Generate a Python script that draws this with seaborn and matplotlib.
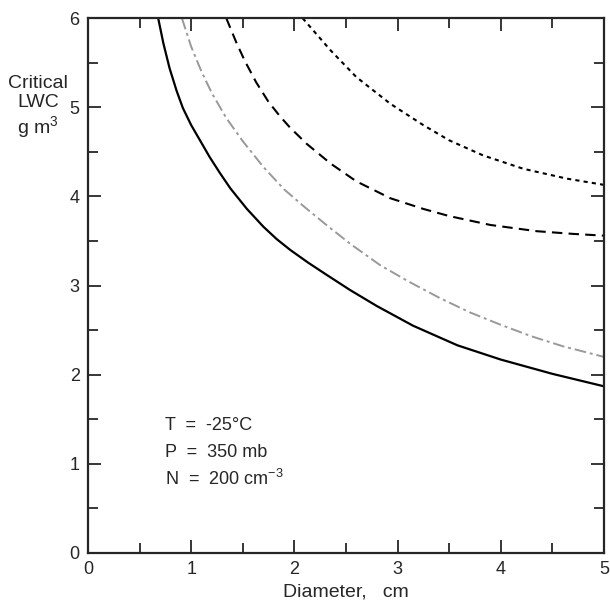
import numpy as np
import pandas as pd
import matplotlib
matplotlib.use("Agg")
import matplotlib.pyplot as plt
import seaborn as sns
from matplotlib.ticker import MultipleLocator

# curves: diameter (cm) vs critical LWC (g m-3)
solid_d = [0.68, 0.73, 0.79, 0.86, 0.92, 1.0, 1.09, 1.18, 1.28, 1.38, 1.54, 1.7,
           1.83, 1.96, 2.13, 2.3, 2.54, 2.8, 3.15, 3.58, 4.0, 4.5, 5.0]
solid_lwc = [6.0, 5.72, 5.44, 5.18, 4.99, 4.80, 4.62, 4.44, 4.26, 4.09, 3.86, 3.66,
             3.52, 3.40, 3.26, 3.13, 2.95, 2.77, 2.55, 2.33, 2.17, 2.01, 1.87]

grey_d = [0.91, 1.0, 1.1, 1.2, 1.34, 1.5, 1.7, 1.9, 2.1, 2.3, 2.54, 2.83, 3.1,
          3.41, 3.7, 4.0, 4.3, 4.6, 5.0]
grey_lwc = [6.0, 5.68, 5.40, 5.16, 4.88, 4.62, 4.33, 4.08, 3.88, 3.69, 3.47, 3.23,
            3.05, 2.86, 2.70, 2.56, 2.43, 2.32, 2.20]

dash_d = [1.34, 1.44, 1.52, 1.63, 1.75, 1.86, 1.96, 2.12, 2.35, 2.6, 2.93, 3.25,
          3.5, 3.9, 4.35, 4.7, 5.0]
dash_lwc = [6.0, 5.72, 5.52, 5.28, 5.06, 4.90, 4.77, 4.59, 4.37, 4.17, 3.98, 3.86,
            3.78, 3.68, 3.61, 3.58, 3.56]

dot_d = [2.08, 2.35, 2.6, 2.93, 3.25, 3.5, 3.83, 4.22, 4.64, 5.0]
dot_lwc = [6.0, 5.64, 5.34, 5.04, 4.8, 4.63, 4.46, 4.31, 4.2, 4.13]

annot = ["T  =  -25°C", "P  =  350 mb", "N  =  200 cm$^{-3}$"]
annot_y = [1.43, 1.13, 0.83]

sns.set_style("ticks")
plt.rcParams['font.family'] = ['Liberation Sans', 'DejaVu Sans']
plt.rcParams['mathtext.fontset'] = 'custom'
plt.rcParams['mathtext.rm'] = 'Liberation Sans'
plt.rcParams['mathtext.it'] = 'Liberation Sans'

fig = plt.figure(figsize=(6.1, 6.06), dpi=100)
ax = fig.add_axes([0.1443, 0.0875, 0.8457, 0.8825])

sns.lineplot(x=solid_d, y=solid_lwc, ax=ax, color='black', lw=1.6)
sns.lineplot(x=grey_d, y=grey_lwc, ax=ax, color='#999999', lw=1.4,
             linestyle=(0, (6, 2, 1.5, 2)))
sns.lineplot(x=dash_d, y=dash_lwc, ax=ax, color='black', lw=1.5,
             linestyle=(0, (5, 3)))
sns.lineplot(x=dot_d, y=dot_lwc, ax=ax, color='black', lw=1.5,
             linestyle=(0, (2, 2)))

ax.set_xlim(0, 5)
ax.set_ylim(0, 6)
ax.xaxis.set_major_locator(MultipleLocator(1))
ax.xaxis.set_minor_locator(MultipleLocator(0.5))
ax.yaxis.set_major_locator(MultipleLocator(1))
ax.yaxis.set_minor_locator(MultipleLocator(0.5))
ax.tick_params(which='both', direction='in', top=True, right=True, width=1.3,
               labelsize=13, pad=6)
ax.tick_params(which='major', length=9.5)
ax.tick_params(which='minor', length=7)
for s in ax.spines.values():
    s.set_linewidth(1.6)

ax.set_xlabel("Diameter,   cm", fontsize=14, labelpad=4)
ax.set_ylabel("")
fig.text(0.062, 0.823, "Critical\nLWC\ng m$^3$", ha='center', va='center',
         fontsize=14, linespacing=1.15)

for t, yv in zip(annot, annot_y):
    ax.text(0.75, yv, t, fontsize=13, ha='left', va='center')

fig.savefig("out.png", dpi=100)
